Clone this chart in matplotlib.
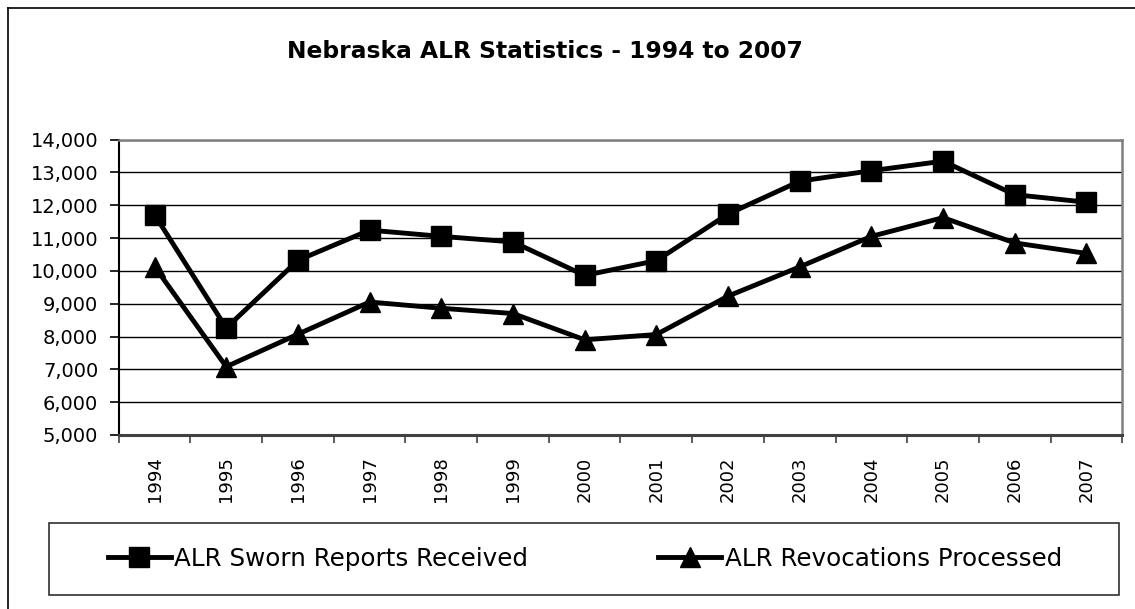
import matplotlib
matplotlib.use("Agg")
import matplotlib.pyplot as plt
from matplotlib.ticker import FuncFormatter, FixedLocator, MultipleLocator
from matplotlib.lines import Line2D
from matplotlib.patches import Rectangle
import numpy as np

years = ["1994", "1995", "1996", "1997", "1998", "1999", "2000",
         "2001", "2002", "2003", "2004", "2005", "2006", "2007"]
sworn_reports = [11710, 8260, 10320, 11240, 11050, 10880, 9860,
                 10310, 11730, 12730, 13050, 13340, 12320, 12090]
revocations = [10130, 7080, 8070, 9050, 8860, 8700, 7900,
               8060, 9230, 10120, 11050, 11620, 10850, 10530]
series_names = ["ALR Sworn Reports Received", "ALR Revocations Processed"]
title = "Nebraska ALR Statistics - 1994 to 2007"

W, H = 1135, 609
fig = plt.figure(figsize=(W / 100, H / 100), dpi=100)
fig.patch.set_facecolor("white")

def fx(px):
    return px / W

def fy(py):
    return 1 - py / H

ax = fig.add_axes([fx(118.7), fy(435), fx(1122.3) - fx(118.7), fy(139.5) - fy(435)])

n = len(years)
x = np.arange(n) + 0.5
ax.plot(x, sworn_reports, color="black", lw=3.5, marker="s", markersize=14,
        markerfacecolor="black", markeredgecolor="black", label=series_names[0],
        zorder=4, solid_joinstyle="miter")
ax.plot(x, revocations, color="black", lw=3.5, marker="^", markersize=15,
        markerfacecolor="black", markeredgecolor="black", label=series_names[1],
        zorder=4, solid_joinstyle="miter")

ax.set_xlim(0, n)
ax.set_ylim(5000, 14000)
ax.yaxis.set_major_locator(MultipleLocator(1000))
ax.yaxis.set_major_formatter(FuncFormatter(lambda v, p: f"{v:,.0f}"))
ax.grid(axis="y", color="black", lw=1.0, zorder=1)
ax.set_axisbelow(True)

ax.xaxis.set_major_locator(FixedLocator(np.arange(n + 1)))
ax.xaxis.set_minor_locator(FixedLocator(x))
ax.set_xticklabels([], minor=False)
ax.set_xticklabels(years, minor=True, rotation=90, fontsize=13)
ax.tick_params(axis="x", which="major", direction="out", length=6, width=1.2, color="#404040")
ax.tick_params(axis="x", which="minor", length=0, pad=15.5)
ax.tick_params(axis="y", direction="out", length=6.3, width=1.2, pad=8.5, labelsize=14)

ax.spines["left"].set_color("black")
ax.spines["left"].set_linewidth(1.5)
ax.spines["bottom"].set_color("#404040")
ax.spines["bottom"].set_linewidth(2.2)
ax.spines["top"].set_color("#808080")
ax.spines["top"].set_linewidth(1.8)
ax.spines["right"].set_color("#808080")
ax.spines["right"].set_linewidth(1.8)

fig.text(fx(545), fy(52), title, ha="center", va="center", fontsize=16.8, fontweight="bold")

# legend box
fig.patches.append(Rectangle((fx(49.3), fy(595)), fx(1118.7) - fx(49.3), fy(522.7) - fy(595),
                             transform=fig.transFigure, fill=False, edgecolor="#303030",
                             lw=1.2, zorder=1))
handles, labels = ax.get_legend_handles_labels()
leg = fig.legend(handles, labels, loc="center", ncol=2, mode="expand",
                 bbox_to_anchor=(fx(108), fy(575), fx(1062) - fx(108), fy(543) - fy(575)),
                 frameon=False, fontsize=17.7, handlelength=2.55, handletextpad=0.15,
                 borderpad=0, borderaxespad=0)

# outer chart border
fig.add_artist(Line2D([fx(7.5), 1.0], [fy(8), fy(8)], transform=fig.transFigure, color="black", lw=1.2))
fig.add_artist(Line2D([fx(7.5), fx(7.5)], [0.0, fy(8)], transform=fig.transFigure, color="black", lw=1.2))

fig.savefig("out.png", dpi=100, facecolor="white")
